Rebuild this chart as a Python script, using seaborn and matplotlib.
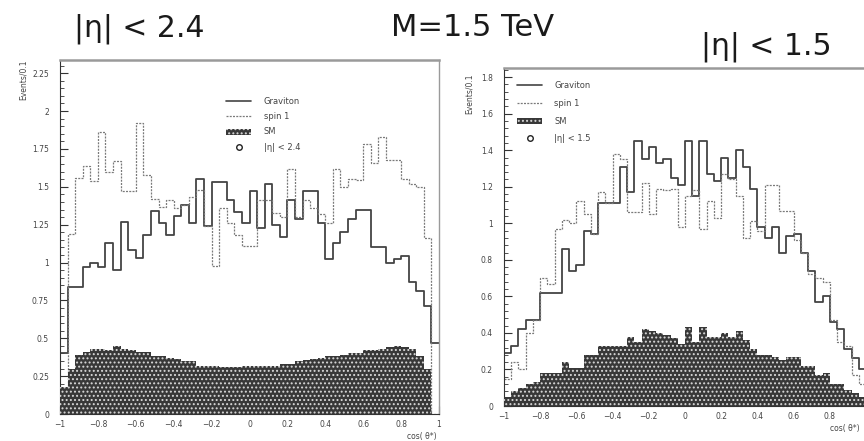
import numpy as np
import matplotlib
matplotlib.use("Agg")
import matplotlib.pyplot as plt
import seaborn as sns
from matplotlib.lines import Line2D
from matplotlib.patches import Patch
from matplotlib.ticker import MultipleLocator, FuncFormatter

# ---------------- data ----------------
n_bins = 50
cos_edges = list(np.linspace(-1.0, 1.0, n_bins + 1))
cos_centers = 0.5 * (np.array(cos_edges[:-1]) + np.array(cos_edges[1:]))

# |eta| < 2.4
graviton_24 = [0.40, 0.84, 0.84, 0.97, 0.995, 0.97, 1.13, 0.95, 1.27, 1.08,
               1.03, 1.18, 1.34, 1.26, 1.18, 1.31, 1.38, 1.26, 1.55, 1.24,
               1.53, 1.53, 1.41, 1.335, 1.26, 1.47, 1.23, 1.52, 1.25, 1.17,
               1.41, 1.29, 1.47, 1.47, 1.26, 1.02, 1.13, 1.20, 1.29, 1.35,
               1.35, 1.10, 1.10, 0.995, 1.02, 1.04, 0.87, 0.81, 0.71, 0.47]
spin1_24 = [0.15, 1.19, 1.56, 1.64, 1.54, 1.86, 1.60, 1.67, 1.47, 1.47,
            1.92, 1.58, 1.42, 1.365, 1.41, 1.36, 1.38, 1.43, 1.48, 1.24,
            0.98, 1.36, 1.26, 1.18, 1.11, 1.11, 1.41, 1.41, 1.33, 1.30,
            1.62, 1.30, 1.41, 1.36, 1.32, 1.26, 1.62, 1.50, 1.55, 1.545,
            1.78, 1.66, 1.83, 1.68, 1.68, 1.55, 1.52, 1.50, 1.16, 0.0]
sm_24 = [0.18, 0.30, 0.39, 0.41, 0.43, 0.43, 0.42, 0.45, 0.43, 0.42,
         0.41, 0.41, 0.38, 0.38, 0.37, 0.36, 0.35, 0.35, 0.32, 0.32,
         0.32, 0.31, 0.31, 0.31, 0.32, 0.32, 0.32, 0.32, 0.32, 0.33,
         0.33, 0.35, 0.355, 0.36, 0.37, 0.38, 0.38, 0.39, 0.40, 0.40,
         0.42, 0.42, 0.43, 0.44, 0.45, 0.44, 0.43, 0.38, 0.30, 0.0]

# |eta| < 1.5
graviton_15 = [0.29, 0.33, 0.42, 0.47, 0.47, 0.62, 0.62, 0.62, 0.86, 0.74,
               0.77, 0.96, 0.94, 1.11, 1.11, 1.11, 1.31, 1.17, 1.45, 1.35,
               1.42, 1.33, 1.35, 1.25, 1.21, 1.45, 1.15, 1.45, 1.27, 1.23,
               1.36, 1.25, 1.40, 1.31, 1.19, 0.98, 0.92, 0.98, 0.84, 0.93,
               0.94, 0.84, 0.74, 0.57, 0.60, 0.46, 0.42, 0.31, 0.26, 0.20]
spin1_15 = [0.15, 0.24, 0.20, 0.40, 0.47, 0.70, 0.67, 0.97, 1.02, 1.00,
            1.12, 1.05, 0.94, 1.17, 1.11, 1.38, 1.35, 1.06, 1.06, 1.22,
            1.05, 1.19, 1.18, 1.19, 0.98, 1.15, 1.18, 0.97, 1.12, 1.03,
            1.27, 1.24, 1.15, 0.92, 1.01, 0.96, 1.21, 1.21, 1.07, 1.07,
            0.91, 0.84, 0.72, 0.70, 0.68, 0.47, 0.35, 0.33, 0.17, 0.12]
sm_15 = [0.05, 0.08, 0.10, 0.12, 0.13, 0.18, 0.18, 0.18, 0.24, 0.21,
         0.21, 0.28, 0.28, 0.33, 0.33, 0.33, 0.33, 0.38, 0.35, 0.42,
         0.41, 0.40, 0.39, 0.37, 0.34, 0.43, 0.35, 0.43, 0.38, 0.38,
         0.40, 0.38, 0.41, 0.36, 0.31, 0.28, 0.28, 0.27, 0.25, 0.27,
         0.27, 0.22, 0.22, 0.17, 0.18, 0.12, 0.12, 0.09, 0.07, 0.05]

legend_labels = ["Graviton", "spin 1", "SM"]

# ---------------- style ----------------
sns.set_theme(style="white")
plt.rcParams['font.family'] = ['DejaVu Sans']
plt.rcParams['hatch.color'] = '#d8d8d8'
plt.rcParams['hatch.linewidth'] = 0.9

GRAV_C = '#444444'
SPIN_C = '#7a7a7a'
SM_FACE = '#383838'
SM_HATCH = '#d8d8d8'
SM_PATTERN = '....'
TXT_C = '#444444'

fig = plt.figure(figsize=(8.64, 4.41), dpi=100)
W, H = 864.0, 441.0


def fig_axes(x0, x1, ytop, ybot):
    return fig.add_axes([x0 / W, 1 - ybot / H, (x1 - x0) / W, (ybot - ytop) / H])


def make_fmt(hide=()):
    def fmt_num(v, pos):
        if any(abs(v - h) < 1e-9 for h in hide):
            return ''
        s = ('%g' % round(v, 3))
        return s.replace('-', '\u2212')
    return FuncFormatter(fmt_num)


def draw_panel(ax, grav, spin, sm, ymax, ystep, hide_x=()):
    sns.histplot(x=cos_centers, weights=np.asarray(grav), bins=cos_edges, element="step",
                 fill=False, color=GRAV_C, linewidth=1.3, ax=ax, zorder=2)
    sns.histplot(x=cos_centers, weights=np.asarray(spin), bins=cos_edges, element="step",
                 fill=False, color=SPIN_C, linewidth=0.9, linestyle=(0, (1.6, 1.0)),
                 ax=ax, zorder=2)
    sns.histplot(x=cos_centers, weights=np.asarray(sm), bins=cos_edges, element="step",
                 fill=True, alpha=1, facecolor=SM_FACE, edgecolor=SM_HATCH,
                 hatch=SM_PATTERN, linewidth=0, ax=ax, zorder=3)
    ax.set_xlim(-1, 1)
    ax.set_ylim(0, ymax)
    ax.set_xlabel('')
    ax.set_ylabel('')
    ax.xaxis.set_major_locator(MultipleLocator(0.2))
    ax.xaxis.set_minor_locator(MultipleLocator(0.04))
    ax.yaxis.set_major_locator(MultipleLocator(ystep))
    ax.yaxis.set_minor_locator(MultipleLocator(ystep / 5))
    ax.xaxis.set_major_formatter(make_fmt(hide_x))
    ax.yaxis.set_major_formatter(make_fmt())
    ax.tick_params(which='both', direction='in', left=True, bottom=True,
                   top=False, right=False, colors='#333333',
                   labelcolor=TXT_C, labelsize=5.5)
    ax.tick_params(which='major', length=6, width=0.8)
    ax.tick_params(which='minor', length=3, width=0.6)
    ax.tick_params(axis='y', pad=8)
    ax.tick_params(axis='x', pad=4)
    for s in ['left', 'bottom']:
        ax.spines[s].set_color('#333333')
        ax.spines[s].set_linewidth(0.8)
    ax.spines['top'].set_color('#9a9a9a')
    ax.spines['top'].set_linewidth(1.8)
    ax.spines['right'].set_color('#9a9a9a')
    ax.spines['right'].set_linewidth(1.0)


def add_legend(ax, x, y, eta_label, spacing):
    handles = [
        Line2D([], [], color=GRAV_C, lw=1.2),
        Line2D([], [], color=SPIN_C, lw=0.9, ls=(0, (1.6, 1.0))),
        Patch(facecolor=SM_FACE, edgecolor=SM_HATCH, hatch=SM_PATTERN, linewidth=0),
        Line2D([], [], ls='none', marker='o', mfc='none', mec='#222222',
               markersize=4, mew=1.0),
    ]
    labels = legend_labels + [eta_label]
    ax.legend(handles, labels, loc='upper left',
              bbox_to_anchor=(x / W, 1 - y / H), bbox_transform=fig.transFigure,
              frameon=False, fontsize=6, labelcolor=TXT_C, handlelength=3.0,
              handletextpad=1.5, labelspacing=spacing, borderpad=0,
              borderaxespad=0)


ax1 = fig_axes(60, 439, 60, 414)
draw_panel(ax1, graviton_24, spin1_24, sm_24, 2.337, 0.25)
add_legend(ax1, 226, 97, "|\u03b7| < 2.4", 0.75)

ax2 = fig_axes(504, 866, 68, 406)
draw_panel(ax2, graviton_15, spin1_15, sm_15, 1.85, 0.2, hide_x=(1.0,))
add_legend(ax2, 517, 81, "|\u03b7| < 1.5", 1.05)

# axis labels
fig.text(23 / W, 1 - 60 / H, "Events/0.1", rotation=90, ha='center', va='top',
         fontsize=5.5, color=TXT_C)
fig.text(469 / W, 1 - 74 / H, "Events/0.1", rotation=90, ha='center', va='top',
         fontsize=5.5, color=TXT_C)
fig.text(437 / W, 1 - 436 / H, "cos( \u03b8*)", ha='right', va='center',
         fontsize=5.5, color=TXT_C)
fig.text(860 / W, 1 - 428 / H, "cos( \u03b8*)", ha='right', va='center',
         fontsize=5.5, color=TXT_C)

# titles
fig.text(74 / W, 1 - 37 / H, "|\u03b7| < 2.4", ha='left', va='baseline',
         fontsize=21.5, color='#1a1a1a')
fig.text(391 / W, 1 - 36 / H, "M=1.5 TeV", ha='left', va='baseline',
         fontsize=22, color='#1a1a1a')
fig.text(701 / W, 1 - 55 / H, "|\u03b7| < 1.5", ha='left', va='baseline',
         fontsize=21.5, color='#1a1a1a')

fig.savefig("out.png", dpi=100)
